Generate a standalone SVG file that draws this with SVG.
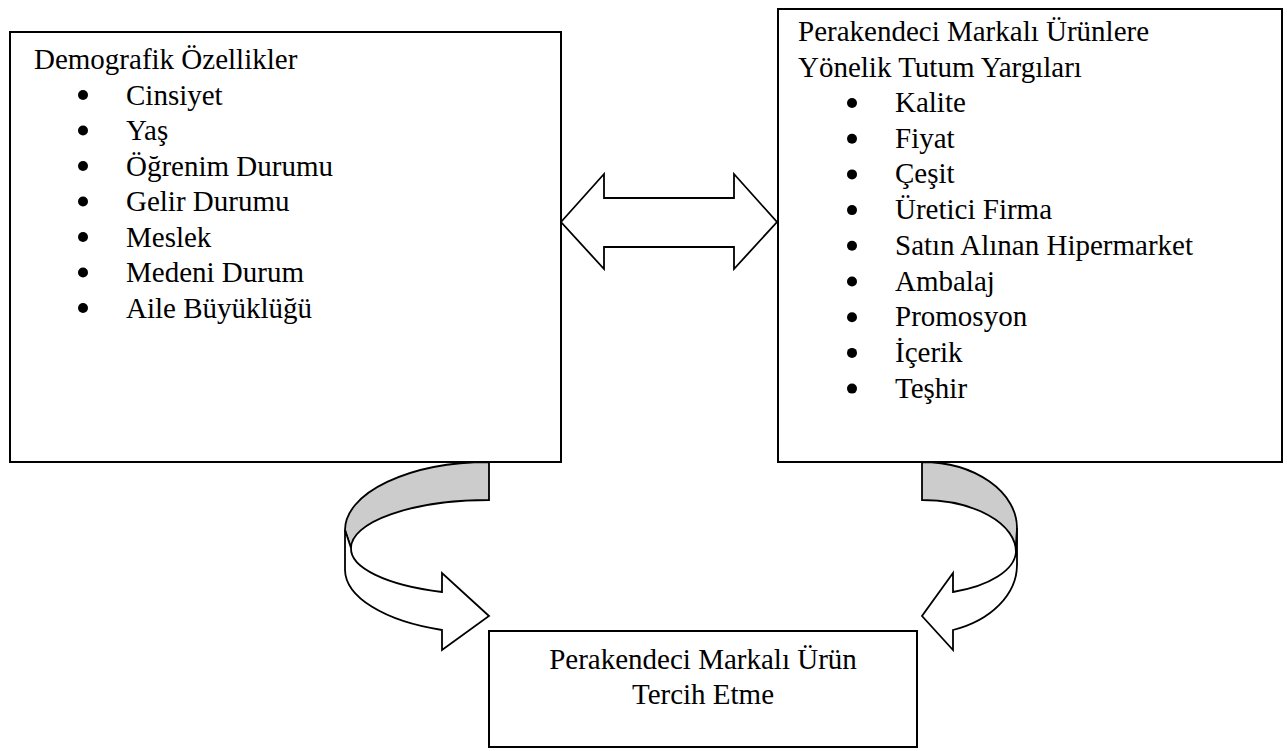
<svg xmlns="http://www.w3.org/2000/svg" width="1287" height="751" viewBox="0 0 1287 751">
  <style>
    .box { fill: #ffffff; stroke: #000000; stroke-width: 2; }
    .txt { font-family: "Liberation Serif", "Times New Roman", serif; font-size: 29px; fill: #000000; }
    .mid { text-anchor: middle; }
    .dot { fill: #000000; }
    .arrow { fill: #ffffff; stroke: #000000; stroke-width: 1.8; stroke-linejoin: miter; }
    .back { fill: #cccccc; stroke: #000000; stroke-width: 1.8; }
  </style>
  <rect width="1287" height="751" fill="#ffffff"/>

  <!-- Demographic characteristics -->
  <g id="node-demografik">
    <rect class="box" x="10" y="32" width="551" height="430"/>
    <text class="txt" x="34" y="69">Demografik Özellikler</text>
    <g class="dot">
      <circle cx="83" cy="95" r="5"/>
      <circle cx="83" cy="130.5" r="5"/>
      <circle cx="83" cy="166" r="5"/>
      <circle cx="83" cy="201.5" r="5"/>
      <circle cx="83" cy="237" r="5"/>
      <circle cx="83" cy="272.5" r="5"/>
      <circle cx="83" cy="308" r="5"/>
    </g>
    <text class="txt" x="126" y="104.5">Cinsiyet</text>
    <text class="txt" x="126" y="140">Yaş</text>
    <text class="txt" x="126" y="175.5">Öğrenim Durumu</text>
    <text class="txt" x="126" y="211">Gelir Durumu</text>
    <text class="txt" x="126" y="246.5">Meslek</text>
    <text class="txt" x="126" y="282">Medeni Durum</text>
    <text class="txt" x="126" y="317.5">Aile Büyüklüğü</text>
  </g>

  <!-- Attitudes toward retailer-branded products -->
  <g id="node-tutum">
    <rect class="box" x="778" y="9" width="504" height="453"/>
    <text class="txt" x="798" y="41">Perakendeci Markalı Ürünlere</text>
    <text class="txt" x="798" y="76.5">Yönelik Tutum Yargıları</text>
    <g class="dot">
      <circle cx="852" cy="103" r="5"/>
      <circle cx="852" cy="138.7" r="5"/>
      <circle cx="852" cy="174.4" r="5"/>
      <circle cx="852" cy="210.1" r="5"/>
      <circle cx="852" cy="245.8" r="5"/>
      <circle cx="852" cy="281.5" r="5"/>
      <circle cx="852" cy="317.2" r="5"/>
      <circle cx="852" cy="352.9" r="5"/>
      <circle cx="852" cy="388.6" r="5"/>
    </g>
    <text class="txt" x="895" y="112">Kalite</text>
    <text class="txt" x="895" y="147.7">Fiyat</text>
    <text class="txt" x="895" y="183.4">Çeşit</text>
    <text class="txt" x="895" y="219.1">Üretici Firma</text>
    <text class="txt" x="895" y="254.8">Satın Alınan Hipermarket</text>
    <text class="txt" x="895" y="290.5">Ambalaj</text>
    <text class="txt" x="895" y="326.2">Promosyon</text>
    <text class="txt" x="895" y="361.9">İçerik</text>
    <text class="txt" x="895" y="397.6">Teşhir</text>
  </g>

  <!-- Outcome: preference -->
  <g id="node-tercih">
    <rect class="box" x="489" y="631" width="428" height="116"/>
    <text class="txt mid" x="703" y="669">Perakendeci Markalı Ürün</text>
    <text class="txt mid" x="703" y="704">Tercih Etme</text>
  </g>

  <!-- Connectors -->
  <g id="connectors">
    <!-- two-way block arrow between the upper boxes -->
    <path class="arrow" d="M561,222 L604,174 L604,198 L734,198 L734,174 L777,222 L734,269 L734,247 L604,247 L604,269 Z"/>

    <!-- curved arrow from the left box down to the outcome -->
    <path class="back" d="M489,462 A144,68 0 0 0 345,530 L351,548 A138,48 0 0 1 489,500 Z"/>
    <path class="arrow" d="M345,530 L345,570 A144,64 0 0 0 442,630 L442,650 L489,616 L442,573 L442,592 A138,46 0 0 1 351,548 Z"/>

    <!-- curved arrow from the right box down to the outcome -->
    <path class="back" d="M922,462 A95,66 0 0 1 1017,528 L1016,552 A94,52 0 0 0 922,500 Z"/>
    <path class="arrow" d="M1016,552 A94,44 0 0 1 953,592 L953,573 L922,616 L953,650 L953,630 A95,69 0 0 0 1017,565 L1017,528 Z"/>
  </g>
</svg>
